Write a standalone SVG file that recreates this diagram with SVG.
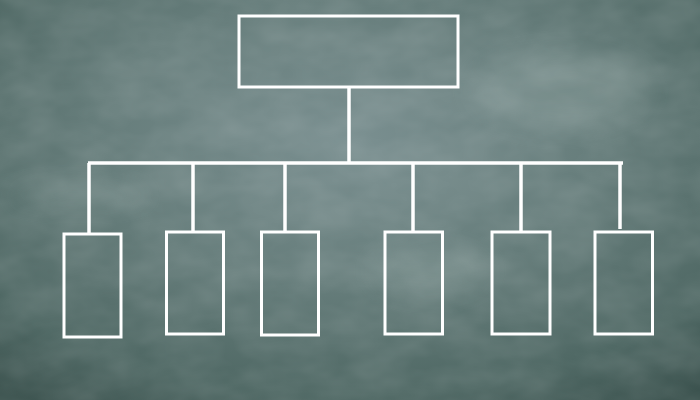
<svg xmlns="http://www.w3.org/2000/svg" width="700" height="400" viewBox="0 0 700 400">
  <defs>
    <radialGradient id="board" cx="0.5" cy="0.35" r="0.8">
      <stop offset="0" stop-color="#7a8f90"/>
      <stop offset="0.45" stop-color="#667d7b"/>
      <stop offset="0.8" stop-color="#4f6864"/>
      <stop offset="1" stop-color="#3c534f"/>
    </radialGradient>
    <filter id="chalk" x="0" y="0" width="100%" height="100%">
      <feTurbulence type="fractalNoise" baseFrequency="0.02 0.035" numOctaves="3" seed="7"/>
      <feColorMatrix type="matrix" values="0 0 0 0 1  0 0 0 0 1  0 0 0 0 1  0 0 0 0.16 -0.04"/>
    </filter>
    <filter id="soft"><feGaussianBlur stdDeviation="12"/></filter>
    <style>
      .box { fill: none; stroke: #ffffff; stroke-width: 3; }
      .line { stroke: #ffffff; stroke-width: 3.5; fill: none; }
    </style>
  </defs>
  <rect width="700" height="400" fill="url(#board)"/>
  <rect width="700" height="400" filter="url(#chalk)"/>
  <g opacity="0.16" filter="url(#soft)" fill="#c8d6d3">
    <ellipse cx="80" cy="195" rx="70" ry="10"/>
    <ellipse cx="560" cy="90" rx="90" ry="40"/>
    <ellipse cx="430" cy="270" rx="60" ry="25"/>
  </g>

  <g id="connectors">
    <line class="line" x1="349" y1="88" x2="349" y2="163"/>
    <line class="line" x1="88" y1="163" x2="623" y2="163"/>
    <line class="line" x1="89" y1="163" x2="89" y2="234"/>
    <line class="line" x1="193" y1="163" x2="193" y2="232"/>
    <line class="line" x1="285" y1="163" x2="285" y2="232"/>
    <line class="line" x1="413" y1="163" x2="413" y2="232"/>
    <line class="line" x1="521" y1="163" x2="521" y2="232"/>
    <line class="line" x1="620" y1="163" x2="620" y2="229"/>
  </g>

  <g id="root"><rect class="box" x="239" y="16" width="219" height="71"/></g>
  <g id="child1"><rect class="box" x="64" y="234" width="57" height="103"/></g>
  <g id="child2"><rect class="box" x="166.5" y="232" width="57" height="102"/></g>
  <g id="child3"><rect class="box" x="261.5" y="232" width="57" height="103"/></g>
  <g id="child4"><rect class="box" x="385" y="232" width="57.5" height="102"/></g>
  <g id="child5"><rect class="box" x="492" y="232" width="58" height="102"/></g>
  <g id="child6"><rect class="box" x="595" y="232" width="57.5" height="102"/></g>
</svg>
